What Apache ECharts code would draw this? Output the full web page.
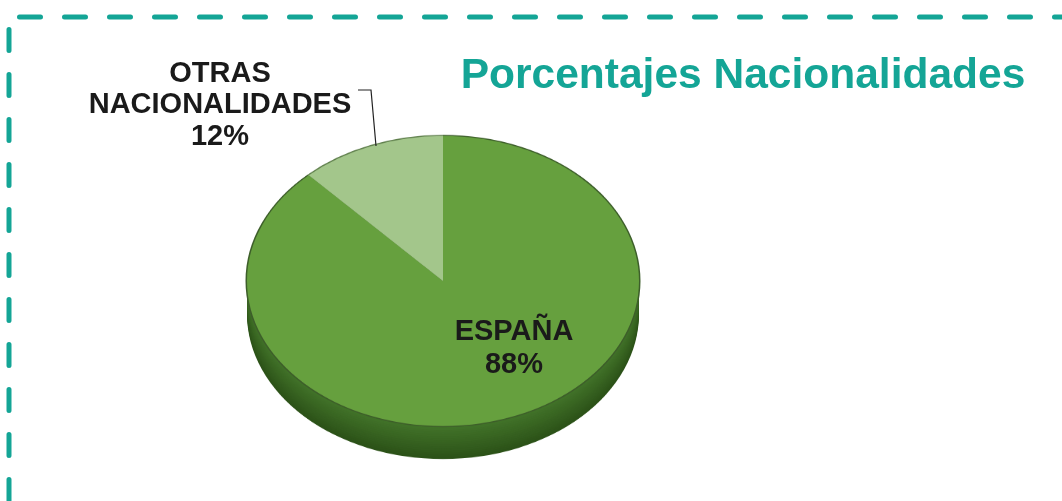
<!DOCTYPE html>
<html>
<head>
<meta charset="utf-8">
<title>Porcentajes Nacionalidades</title>
<script src="https://cdn.jsdelivr.net/npm/echarts@6/dist/echarts.min.js"></script>
<style>
  html, body { margin: 0; padding: 0; background: #fff; }
  #wrap { position: relative; width: 1062px; height: 501px; overflow: hidden; }
  /* pie is drawn round, then squashed vertically to get the tilted look */
  #pie { position: absolute; left: 0; top: 0; width: 1062px; height: 680px; transform-origin: 0 0; transform: scaleY(0.74); }
  #overlay { position: absolute; left: 0; top: 0; width: 1062px; height: 501px; }
</style>
</head>
<body>
<div id="wrap">
  <div id="pie"></div>
  <div id="overlay"></div>
</div>
<script>
// data
const categories = ["ESPAÑA", "OTRAS\nNACIONALIDADES"];
const values = [88, 12];
const chartTitle = "Porcentajes Nacionalidades";

const SQUASH = 0.74;
const TEAL = "#14a596";

const pieData = categories.map((name, i) => ({ name: name, value: values[i] }));

function pieLayer(cy, radius, colors) {
  return {
    type: "pie",
    center: [443, cy],
    radius: radius,
    startAngle: 90,
    clockwise: true,
    silent: true,
    animation: false,
    label: { show: false },
    labelLine: { show: false },
    emphasis: { disabled: true },
    itemStyle: { borderWidth: 0 },
    data: pieData.map((d, i) => ({ name: d.name, value: d.value, itemStyle: { color: colors[i] } }))
  };
}

function mix(a, b, t) {
  const pa = a.match(/\w\w/g).map(h => parseInt(h, 16));
  const pb = b.match(/\w\w/g).map(h => parseInt(h, 16));
  return "rgb(" + pa.map((v, k) => Math.round(v + (pb[k] - v) * t)).join(",") + ")";
}

// side of the disc: stacked copies shifted downward
const cy = 281 / SQUASH;
const depth = 33 / SQUASH;
const steps = 16;
const series = [];
for (let s = steps; s >= 1; s--) {
  const t = s / steps;
  series.push(pieLayer(cy + depth * t, 196, [mix("43752a", "2c5218", t), mix("7fa868", "5c8248", t)]));
}
series.push(pieLayer(cy, 197.5, ["#3d5e2a", "#5f7f4c"]));
series.push(pieLayer(cy, 196, ["#66a03e", "#a3c68b"]));

const pieChart = echarts.init(document.getElementById("pie"));
pieChart.setOption({ animation: false, series: series });

// texts, leader line and dashed frame
const labelFont = "bold 29px 'Liberation Sans', Arial, sans-serif";
function labelText(i) {
  return categories[i] + "\n" + values[i] + "%";
}

const overlay = echarts.init(document.getElementById("overlay"));
overlay.setOption({
  animation: false,
  graphic: [
    {
      type: "polyline",
      shape: { points: [[9, 17], [1090, 17]] },
      style: { stroke: TEAL, lineWidth: 5, lineCap: "round", lineDash: [21, 24], lineDashOffset: 34.5, fill: null }
    },
    {
      type: "polyline",
      shape: { points: [[9, 17], [9, 520]] },
      style: { stroke: TEAL, lineWidth: 5, lineCap: "round", lineDash: [21, 24], lineDashOffset: 32.5, fill: null }
    },
    {
      type: "text",
      x: 743,
      y: 76,
      style: {
        text: chartTitle,
        font: "bold 42.5px 'Liberation Sans', Arial, sans-serif",
        fill: TEAL,
        align: "center",
        verticalAlign: "middle"
      }
    },
    {
      type: "text",
      x: 220,
      y: 105,
      style: {
        text: labelText(1),
        font: labelFont,
        lineHeight: 31.5,
        fill: "#1a1a1a",
        align: "center",
        verticalAlign: "middle"
      }
    },
    {
      type: "text",
      x: 514,
      y: 348,
      style: {
        text: labelText(0),
        font: labelFont,
        lineHeight: 33,
        fill: "#1a1a1a",
        align: "center",
        verticalAlign: "middle"
      }
    },
    {
      type: "polyline",
      shape: { points: [[358, 90], [371, 90], [376, 146]] },
      style: { stroke: "#222", lineWidth: 1.2, fill: null }
    }
  ]
});
</script>
</body>
</html>
